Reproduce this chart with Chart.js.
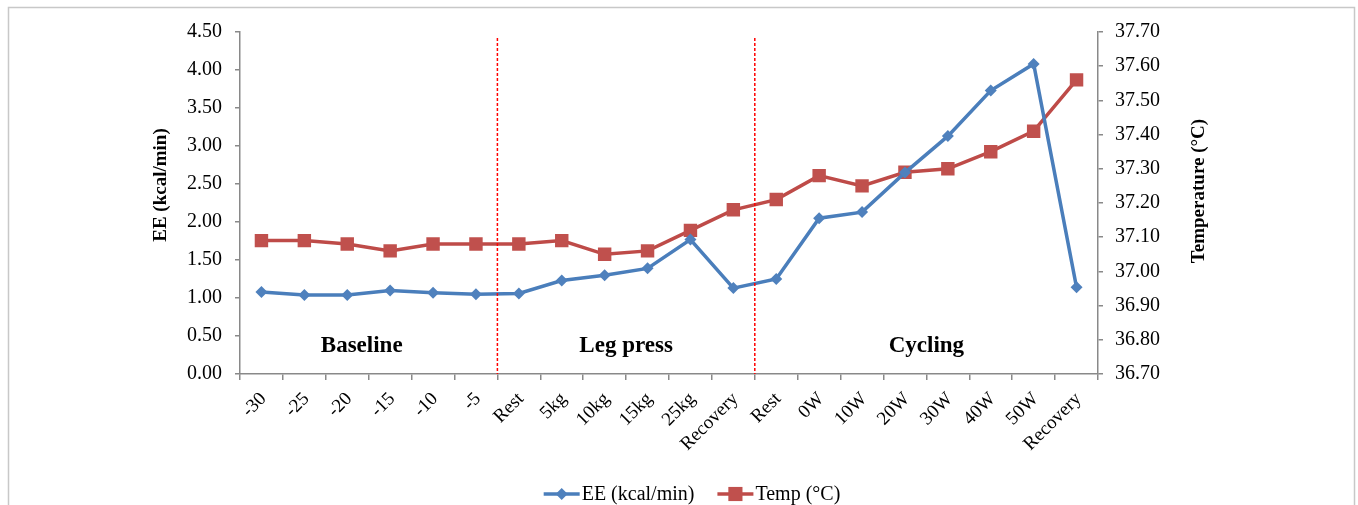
<!DOCTYPE html>
<html lang="en">
<head>
  <meta charset="UTF-8">
  <title>EE and Temperature</title>
  <script src="https://cdn.jsdelivr.net/npm/chart.js"></script>
  <style>
    html, body { margin: 0; padding: 0; background: #fff; overflow: hidden; }
    #wrap { position: relative; width: 1358px; height: 505px; }
  </style>
</head>
<body>
  <div id="wrap">
    <canvas id="eeChart" width="1358" height="505"></canvas>
  </div>

  <script>
    // data
    const categories = ['-30', '-25', '-20', '-15', '-10', '-5',
      'Rest', '5kg', '10kg', '15kg', '25kg', 'Recovery',
      'Rest', '0W', '10W', '20W', '30W', '40W', '50W', 'Recovery'];
    const eeValues = [1.08, 1.04, 1.04, 1.10, 1.07, 1.05,
      1.06, 1.23, 1.30, 1.39, 1.77, 1.13,
      1.25, 2.05, 2.13, 2.65, 3.13, 3.73, 4.08, 1.14];
    const tempValues = [37.09, 37.09, 37.08, 37.06, 37.08, 37.08,
      37.08, 37.09, 37.05, 37.06, 37.12, 37.18,
      37.21, 37.28, 37.25, 37.29, 37.30, 37.35, 37.41, 37.56];
    const eeTicks = [0, 0.5, 1, 1.5, 2, 2.5, 3, 3.5, 4, 4.5];
    const tempTicks = [36.7, 36.8, 36.9, 37.0, 37.1, 37.2, 37.3, 37.4, 37.5, 37.6, 37.7];
    const phaseNames = ['Baseline', 'Leg press', 'Cycling'];
    const phaseStart = [0, 6, 12];
    const phaseEnd = [5, 11, 19];

    const BLUE = '#4A7EBB', BLUE_FILL = '#4F81BD';
    const RED = '#BE4B48', RED_FILL = '#C0504D';
    const AXIS = '#898989';
    const SERIF = '"Liberation Serif", "Times New Roman", serif';

    // phase labels, dashed separators, axis titles, legend, frame
    const decor = {
      id: 'decor',
      beforeDraw(chart) {
        const c = chart.ctx;
        c.save();
        c.strokeStyle = '#c8c8c8';
        c.lineWidth = 1.5;
        c.strokeRect(8.5, 7.5, 1346, 600);
        c.restore();
      },
      afterDraw(chart) {
        const c = chart.ctx;
        const x = chart.scales.x;
        const area = chart.chartArea;
        c.save();

        // dashed separators between phases
        c.strokeStyle = '#ff0000';
        c.lineWidth = 1.5;
        c.setLineDash([3, 2]);
        for (let i = 1; i < phaseStart.length; i++) {
          const px = (x.getPixelForValue(phaseStart[i] - 1) + x.getPixelForValue(phaseStart[i])) / 2;
          c.beginPath();
          c.moveTo(px, area.top + 6);
          c.lineTo(px, area.bottom);
          c.stroke();
        }
        c.setLineDash([]);

        // phase names (baseline sits a little left of its span centre)
        c.fillStyle = '#000';
        c.font = 'bold 23px ' + SERIF;
        c.textAlign = 'center';
        c.textBaseline = 'middle';
        phaseNames.forEach((name, i) => {
          let px = x.getPixelForValue((phaseStart[i] + phaseEnd[i]) / 2);
          if (i === 0) px -= 7;
          c.fillText(name, px, area.bottom - 28);
        });

        // axis titles
        c.font = 'bold 19px ' + SERIF;
        c.save();
        c.translate(161, 185);
        c.rotate(-Math.PI / 2);
        c.fillText('EE (kcal/min)', 0, 0);
        c.restore();
        c.save();
        c.translate(1199, 191);
        c.rotate(-Math.PI / 2);
        c.fillText('Temperature (°C)', 0, 0);
        c.restore();

        // legend
        c.font = '20px ' + SERIF;
        c.textAlign = 'left';
        const items = [
          { text: 'EE (kcal/min)', color: BLUE, fill: BLUE_FILL, style: 'rectRot', r: 6 },
          { text: 'Temp (°C)', color: RED, fill: RED_FILL, style: 'rect', r: 10 }
        ];
        const lineLen = 36, gap = 2, between = 23;
        let total = 0;
        items.forEach(it => { total += lineLen + gap + c.measureText(it.text).width; });
        total += between * (items.length - 1);
        let lx = 692 - total / 2;
        const ly = 494;
        items.forEach(it => {
          c.strokeStyle = it.color;
          c.lineWidth = 3.5;
          c.beginPath();
          c.moveTo(lx, ly);
          c.lineTo(lx + lineLen, ly);
          c.stroke();
          c.fillStyle = it.fill;
          Chart.helpers.drawPoint(c, { pointStyle: it.style, radius: it.r, borderWidth: 0 }, lx + lineLen / 2, ly);
          c.fillStyle = '#000';
          c.fillText(it.text, lx + lineLen + gap, ly + 1);
          lx += lineLen + gap + c.measureText(it.text).width + between;
        });
        c.restore();
      }
    };

    const tickFont = { family: SERIF, size: 20 };

    new Chart(document.getElementById('eeChart'), {
      type: 'line',
      data: {
        labels: categories,
        datasets: [
          {
            label: 'EE (kcal/min)',
            data: eeValues,
            yAxisID: 'y',
            borderColor: BLUE,
            backgroundColor: BLUE_FILL,
            borderWidth: 3.5,
            pointStyle: 'rectRot',
            pointRadius: 6,
            pointBorderWidth: 0,
            pointBackgroundColor: BLUE_FILL,
            tension: 0
          },
          {
            label: 'Temp (°C)',
            data: tempValues,
            yAxisID: 'y2',
            borderColor: RED,
            backgroundColor: RED_FILL,
            borderWidth: 3.5,
            pointStyle: 'rect',
            pointRadius: 9.5,
            pointBorderWidth: 0,
            pointBackgroundColor: RED_FILL,
            tension: 0
          }
        ]
      },
      options: {
        responsive: false,
        animation: false,
        layout: { padding: { top: 32, left: 0, right: 0, bottom: 0 } },
        plugins: {
          legend: { display: false },
          tooltip: { enabled: false }
        },
        scales: {
          x: {
            offset: true,
            grid: { offset: true, drawOnChartArea: false, drawTicks: true, tickLength: 6, color: AXIS, lineWidth: 1.5 },
            border: { color: AXIS, width: 1.5 },
            ticks: {
              color: '#000', font: { family: SERIF, size: 19 },
              minRotation: 45, maxRotation: 45, padding: 8, labelOffset: 2,
              autoSkip: false
            },
            afterFit(s) { s.height = 131; }
          },
          y: {
            position: 'left',
            min: 0, max: 4.5,
            afterBuildTicks(s) { s.ticks = eeTicks.map(v => ({ value: v })); },
            grid: { drawOnChartArea: false, drawTicks: true, tickLength: 5, color: AXIS, lineWidth: 1.5 },
            border: { color: AXIS, width: 1.5 },
            ticks: { color: '#000', font: tickFont, padding: 13, callback: v => Number(v).toFixed(2) },
            afterFit(s) { s.width = 240; }
          },
          y2: {
            position: 'right',
            min: 36.7, max: 37.7,
            afterBuildTicks(s) { s.ticks = tempTicks.map(v => ({ value: v })); },
            grid: { drawOnChartArea: false, drawTicks: true, tickLength: 5, color: AXIS, lineWidth: 1.5 },
            border: { color: AXIS, width: 1.5 },
            ticks: { color: '#000', font: tickFont, padding: 12, callback: v => Number(v).toFixed(2) },
            afterFit(s) { s.width = 260; }
          }
        }
      },
      plugins: [decor]
    });
  </script>
</body>
</html>
